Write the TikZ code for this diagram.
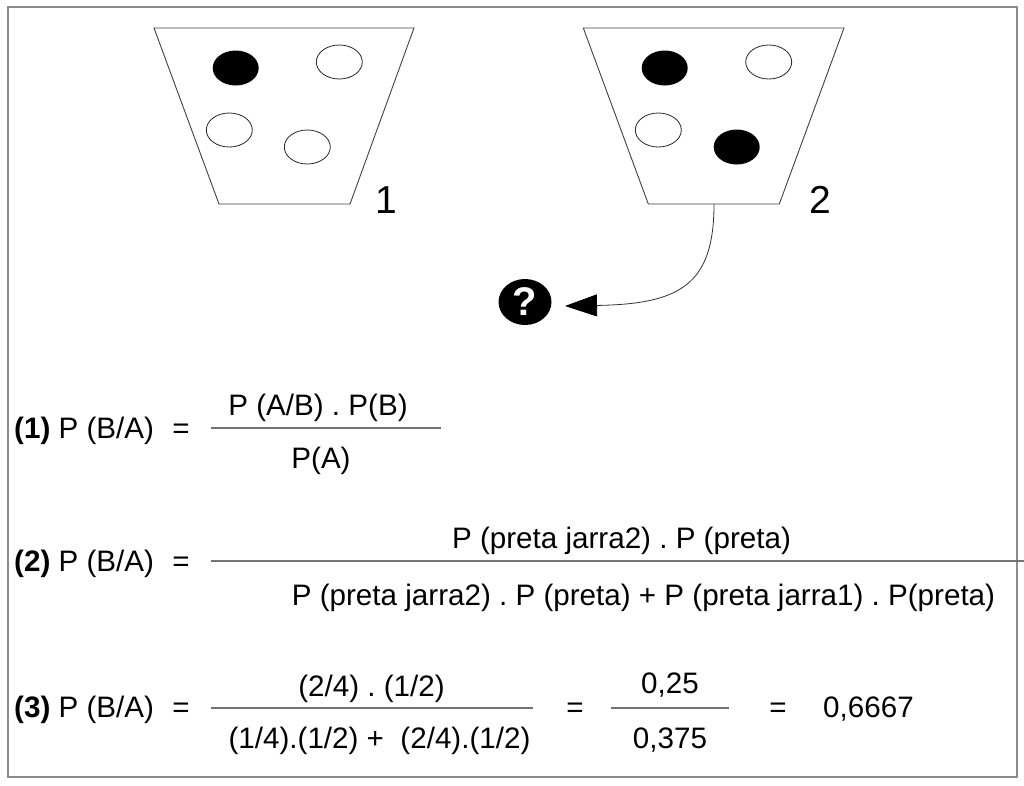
\documentclass[tikz,border=0pt]{standalone}
\usepackage{fontspec}
\setmainfont{Liberation Sans}
\usetikzlibrary{arrows.meta,shapes.geometric}
\frenchspacing
\begin{document}
\begin{tikzpicture}[x=1pt,y=-1pt,
  txt/.style={inner sep=0pt, font=\fontsize{29.6}{34}\selectfont},
  big/.style={inner sep=0pt, font=\fontsize{39}{46}\selectfont},
  frac/.style={draw=black!55, line width=1.2pt},
  jar/.style={draw=black!75, line width=0.9pt},
  ball/.style={draw=black!85, line width=0.8pt, fill=white}]
\useasboundingbox (0,0) rectangle (1024,785);
\draw[draw=black!45, line width=1.5pt] (8,7) rectangle (1017,777);
% jar 1
\draw[jar] (154,28) -- (414,28) -- (350,204) -- (219,204) -- cycle;
\fill[black] (235.7,68) ellipse [x radius=23, y radius=17.5];
\draw[ball] (339.3,62) ellipse [x radius=23, y radius=17];
\draw[ball] (229.3,130) ellipse [x radius=23, y radius=17];
\draw[ball] (307.3,147) ellipse [x radius=23, y radius=17];
\node[big, anchor=base] (l1) at (386.7,213) {1};
% jar 2
\draw[jar] (583.3,28) -- (844,28) -- (779.3,204) -- (648.3,204) -- cycle;
\fill[black] (664.7,68) ellipse [x radius=23, y radius=17.5];
\draw[ball] (768.7,62) ellipse [x radius=23, y radius=17];
\draw[ball] (658.3,130) ellipse [x radius=23, y radius=17];
\fill[black] (736.7,147) ellipse [x radius=23, y radius=17.5];
\node[big, anchor=base] (l2) at (820.7,213) {2};
% question
\node[ellipse, fill=black, minimum width=53pt, minimum height=46pt, inner sep=0pt,
      text=white] (q) at (525,302) {\fontsize{40}{44}\selectfont\bfseries ?};
\coordinate (s) at (714,204);
\coordinate (tip) at (565,306);
\draw[-{Triangle[length=32pt,width=22pt,fill=black,color=black]}, line width=0.8pt, draw=black!80]
  (s) .. controls (714,285) and (680,304) .. (tip);
% row 1
\node[txt, anchor=base west] (r1) at (14,438) {\textbf{(1)} P (B/A)};
\node[txt, anchor=base] (e1) at (181,438) {=};
\node[txt, anchor=base] (n1) at (318,415) {P (A/B) . P(B)};
\node[txt, anchor=base] (d1) at (321,468) {P(A)};
\coordinate (f1a) at (211,428); \coordinate (f1b) at (441,428);
\draw[frac] (f1a) -- (f1b);
% row 2
\node[txt, anchor=base west] (r2) at (14,571) {\textbf{(2)} P (B/A)};
\node[txt, anchor=base] (e2) at (181,571) {=};
\node[txt, anchor=base] (n2) at (621.5,548) {P (preta jarra2) . P (preta)};
\node[txt, anchor=base] (d2) at (643.5,605) {P (preta jarra2) . P (preta) + P (preta jarra1) . P(preta)};
\coordinate (f2a) at (211,561); \coordinate (f2b) at (1024,561);
\draw[frac] (f2a) -- (f2b);
% row 3
\node[txt, anchor=base west] (r3) at (14,717) {\textbf{(3)} P (B/A)};
\node[txt, anchor=base] (e3) at (181,717) {=};
\node[txt, anchor=base] (n3) at (371.5,696) {(2/4) . (1/2)};
\node[txt, anchor=base] (d3) at (379.5,748) {(1/4).(1/2) +~ (2/4).(1/2)};
\coordinate (f3a) at (211,708); \coordinate (f3b) at (533,708);
\draw[frac] (f3a) -- (f3b);
\node[txt, anchor=base] (e4) at (575,717) {=};
\node[txt, anchor=base] (n4) at (670,693) {0,25};
\node[txt, anchor=base] (d4) at (670,748) {0,375};
\coordinate (f4a) at (611,708); \coordinate (f4b) at (729,708);
\draw[frac] (f4a) -- (f4b);
\node[txt, anchor=base] (e5) at (778,717) {=};
\node[txt, anchor=base west] (res) at (823,717) {0,6667};
\end{tikzpicture}
\end{document}
